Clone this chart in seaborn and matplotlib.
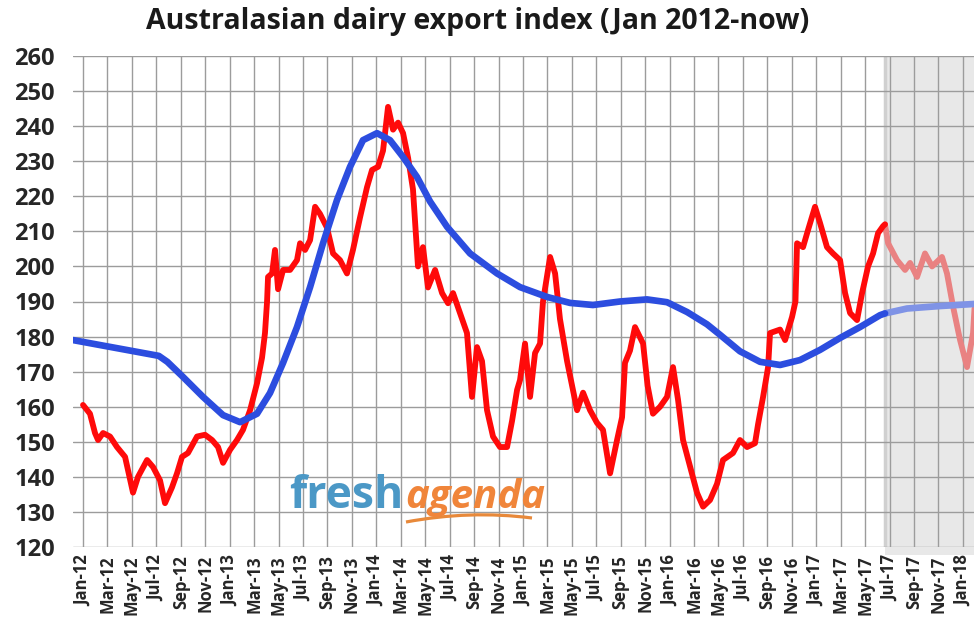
#!/usr/bin/env python3
"""
Recreate the Australasian dairy export index chart (Jan 2012 - now).
"""

import matplotlib
matplotlib.use("Agg")
import matplotlib.pyplot as plt
import matplotlib.transforms as mtransforms
from matplotlib.patches import Rectangle, PathPatch
from matplotlib.path import Path
import seaborn as sns
import numpy as np
import pandas as pd

# x values are months since Jan 2012 (Jan-12 = 0)
red_month = [0.0, 0.57, 0.98, 1.23, 1.64, 2.21, 2.78, 3.44, 4.09, 4.5, 5.24, 5.73,
             6.3, 6.71, 7.28, 7.69, 8.1, 8.59, 9.33, 9.98, 10.56, 11.05, 11.46, 12.03,
             12.6, 13.09, 13.67, 14.24, 14.65, 14.89, 15.06, 15.14, 15.47, 15.71, 15.96,
             16.37, 16.94, 17.51, 17.76, 18.17, 18.58, 18.99, 19.39, 19.97, 20.46, 21.03,
             21.6, 22.09, 22.67, 23.24, 23.65, 24.14, 24.55, 24.96, 25.37, 25.78, 26.19,
             26.6, 27.0, 27.41, 27.82, 28.23, 28.81, 29.38, 29.87, 30.28, 30.85, 31.42,
             31.83, 32.24, 32.65, 33.06, 33.55, 34.12, 34.7, 35.11, 35.52, 35.76, 36.17,
             36.58, 36.99, 37.4, 37.64, 38.22, 38.63, 39.03, 39.61, 40.43, 40.92, 41.49,
             42.06, 42.55, 43.13, 43.7, 44.11, 44.35, 44.76, 45.17, 45.83, 46.2, 46.64,
             47.22, 47.79, 48.28, 48.69, 49.1, 49.67, 50.25, 50.74, 51.31, 51.88, 52.37,
             53.19, 53.76, 54.34, 54.99, 55.24, 55.65, 56.06, 56.22, 57.04, 57.45, 58.02,
             58.3, 58.43, 58.92, 59.33, 59.9, 60.31, 60.88, 61.37, 61.95, 62.36, 62.77,
             63.34, 63.75, 64.24, 64.65, 65.06, 65.47, 65.63, 65.88, 66.61, 67.27, 67.68,
             68.25, 68.9, 69.48, 70.29, 70.7, 71.2, 71.77, 72.34, 72.83, 72.95]
red_value = [160.5, 158, 152.5, 150.5, 152.5, 151.5, 148.5, 145.7, 135.5, 140, 144.8, 142.8,
             139, 132.5, 137, 141, 145.7, 146.8, 151.5, 152, 150.5, 148.5, 144, 147.7,
             150.5, 153.4, 159, 166.7, 174, 181, 190, 197, 198, 204.7, 193.5,
             199, 199, 201.8, 206.6, 204.7, 207.5, 217, 215, 211, 203.7, 201.8,
             198, 204.7, 214, 222.6, 227.5, 228.4, 233, 245.5, 239, 241, 238,
             231, 222, 200, 205.5, 194, 199, 192.4, 189.5, 192.4, 186.7, 181,
             162.8, 177, 173, 159, 151.5, 148.5, 148.5, 156, 164.8, 167.6, 178,
             162.8, 175.3, 178, 190, 202.7, 198, 185, 173, 159, 164, 159,
             155.4, 153.4, 141, 150.5, 157, 172.5, 176, 182.7, 178, 166, 158,
             160, 162.8, 171.3, 162, 150.5, 143, 135.4, 131.5, 133.4, 138, 144.8,
             146.8, 150.5, 148.5, 149.6, 155, 162.8, 171.3, 181, 182, 179, 185.6,
             190, 206.6, 205.5, 210.4, 217, 212.4, 205.5, 203.7, 201.8, 192.4, 186.7,
             184.7, 192.4, 200, 203.7, 209.5, 211.5, 212, 206.6, 201.8, 199, 201,
             197, 203.7, 200, 202.7, 198, 188.5, 179, 171.3, 181, 188]

blue_month = [-0.82, 6.2, 6.9, 8.18, 9.82, 11.46, 12.85, 14.24, 15.3, 16.37, 17.51, 18.58,
              19.64, 20.79, 21.85, 22.91, 24.06, 25.12, 26.19, 27.33, 28.4, 29.79, 31.67,
              33.88, 35.76, 37.97, 39.85, 41.73, 43.94, 46.15, 47.79, 49.43, 51.06, 52.13,
              53.76, 55.4, 57.04, 58.67, 60.31, 61.95, 63.58, 65.22, 65.63, 67.43, 70.1,
              72.95]
blue_value = [179, 174.5, 172.8, 168.5, 162.8, 157.6, 155.6, 158, 163.9, 172.5, 182.7, 194.1,
              206.6, 219, 228.4, 236, 238, 236, 231.2, 225.5, 218.5, 211.3, 203.7,
              198, 194.1, 191.3, 189.6, 189, 190, 190.6, 189.8, 187, 183.5, 180.5,
              175.8, 172.8, 171.9, 173.3, 176.2, 179.6, 182.7, 186.1, 186.6, 188, 188.7,
              189.3]

forecast_start = 65.63  # shaded / faded part starts here
x_left, x_right = -0.82, 72.91
tick_months = list(range(0, 73, 2))
tick_labels = list(pd.date_range("2012-01-01", "2018-01-01", freq="2MS").strftime("%b-%y"))
y_ticks = list(range(120, 261, 10))

RED, RED_FADED = "#ff0a0a", "#e98282"
BLUE, BLUE_FADED = "#2c4ddf", "#7f93e6"

sns.set_style("white")
plt.rcParams["font.family"] = ["Open Sans", "DejaVu Sans"]


def split(months, values):
    """Split a series into the solid part and the faded (shaded) part."""
    df = pd.DataFrame({"month": months, "value": values})
    solid = df[df["month"] <= forecast_start]
    faded = df[df["month"] >= forecast_start]
    return solid, faded


def main():
    fig = plt.figure(figsize=(9.74, 6.22), dpi=100)
    ax = fig.add_axes([73 / 974, 1 - 547 / 622, (974 - 73) / 974, (547 - 56) / 622])

    # shaded area on the right
    trans = mtransforms.blended_transform_factory(ax.transData, ax.transAxes)
    ax.add_patch(Rectangle((forecast_start, -0.016), x_right + 1 - forecast_start, 1.016,
                           transform=trans, facecolor="#e8e8e8", edgecolor="none",
                           zorder=0.2, clip_on=False))
    ax.axvline(forecast_start, color="#d0d0d0", lw=2.5, zorder=0.3)

    red_solid, red_faded = split(red_month, red_value)
    blue_solid, blue_faded = split(blue_month, blue_value)

    sns.lineplot(data=red_faded, x="month", y="value", color=RED_FADED, lw=4.2,
                 ax=ax, sort=False, zorder=3)
    sns.lineplot(data=blue_faded, x="month", y="value", color=BLUE_FADED, lw=4.8,
                 ax=ax, sort=False, zorder=3)
    sns.lineplot(data=red_solid, x="month", y="value", color=RED, lw=4.2,
                 ax=ax, sort=False, zorder=4)
    sns.lineplot(data=blue_solid, x="month", y="value", color=BLUE, lw=4.8,
                 ax=ax, sort=False, zorder=5)

    ax.set_xlim(x_left, x_right)
    ax.set_ylim(120, 260)
    ax.set_xticks(tick_months)
    ax.set_xticklabels(tick_labels, rotation=90, fontsize=12, fontweight="bold")
    ax.set_yticks(y_ticks)
    ax.set_yticklabels([str(v) for v in y_ticks], fontsize=17, fontweight="bold")
    ax.set_xlabel("")
    ax.set_ylabel("")

    ax.grid(True, color="#9c9c9c", lw=1.0)
    ax.set_axisbelow(True)
    for side in ["top", "right", "left", "bottom"]:
        ax.spines[side].set_visible(False)
    ax.tick_params(axis="x", length=5, width=1, color="#9c9c9c", pad=1)
    ax.tick_params(axis="y", length=0, pad=13)

    fig.text(478 / 974, 1 - 22 / 622, "Australasian dairy export index (Jan 2012-now)",
             ha="center", va="center", fontsize=20.5, fontweight="bold", color="#1a1a1a")

    # freshagenda logo
    fig.text(289 / 974, 1 - 508 / 622, "fresh", ha="left", va="baseline",
             fontsize=32, fontweight="bold", color="#4b98c6")
    fig.text(405 / 974, 1 - 508 / 622, "agenda", ha="left", va="baseline",
             fontsize=29, fontweight="bold", style="italic", color="#f0853a")
    verts = [(406, 522), (470, 510), (532, 518)]
    verts = [(vx / 974, 1 - vy / 622) for vx, vy in verts]
    swoosh = PathPatch(Path(verts, [Path.MOVETO, Path.CURVE3, Path.CURVE3]),
                       transform=fig.transFigure, facecolor="none",
                       edgecolor="#e8893a", lw=2.3)
    fig.add_artist(swoosh)

    fig.savefig("out.png", dpi=100)
    plt.close(fig)


if __name__ == "__main__":
    main()
